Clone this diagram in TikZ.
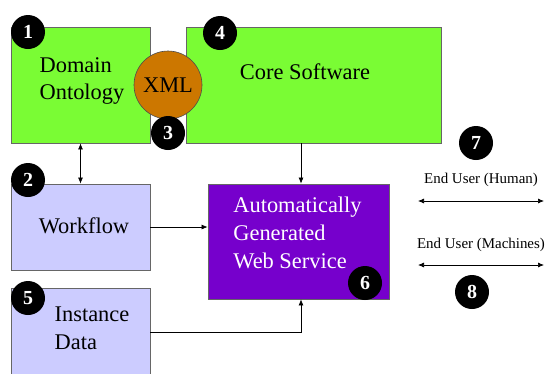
\documentclass[tikz,border=0pt]{standalone}
\usepackage{fontspec}
\setmainfont{Liberation Serif}
\definecolor{ontoGreen}{RGB}{122,252,52}
\definecolor{flowBlue}{RGB}{204,204,255}
\definecolor{wsPurple}{RGB}{118,0,204}
\definecolor{xmlOrange}{RGB}{204,119,0}
\usetikzlibrary{arrows.meta, positioning, calc}

\begin{document}
\begin{tikzpicture}[x=1bp, y=-1bp,
    box/.style={draw=black!60, line width=0.8bp, minimum width=139bp, inner sep=0pt},
    numdot/.style={circle, fill=black, text=white, font=\fontsize{20}{20}\selectfont\bfseries, minimum size=34bp, inner sep=0pt},
    bigtxt/.style={font=\fontsize{22.5}{28}\selectfont, align=left},
    smalltxt/.style={font=\fontsize{15}{18}\selectfont},
    conn/.style={line width=0.7bp, -{Latex[length=6bp,width=5bp]}},
    twoway/.style={line width=0.7bp, {Latex[length=6bp,width=5bp]}-{Latex[length=6bp,width=5bp]}}]
    \useasboundingbox (0,0) rectangle (551,373);

    % the building blocks
    \node[box, fill=ontoGreen, minimum height=116bp] (onto) at (80.5,85) {};
    \node[box, fill=ontoGreen, minimum width=255bp, minimum height=116bp] (core) at (313.5,85) {};
    \node[box, fill=flowBlue, minimum height=86bp] (flow) at (80.5,227) {};
    \node[box, fill=flowBlue, minimum height=88bp] (inst) at (80.5,332) {};
    \node[box, fill=wsPurple, minimum width=181bp, minimum height=115bp] (ws) at (298.5,241.5) {};
    \node[circle, draw=black!70, line width=0.6bp, fill=xmlOrange, minimum size=68bp, inner sep=0pt, bigtxt] (xml) at (168,85) {XML};

    \node[bigtxt] (ontotxt) at (82,81) {Domain\\Ontology};
    \node[bigtxt] (coretxt) at (305,72) {Core Software};
    \node[bigtxt] (flowtxt) at (84,226) {Workflow};
    \node[bigtxt] (insttxt) at (92,328) {Instance\\Data};
    \node[bigtxt, text=white] (wstxt) at (297.5,233) {Automatically\\Generated\\Web Service};

    % numbered markers
    \node[numdot] (n1) at (28,32) {1};
    \node[numdot] (n2) at (28,180) {2};
    \node[numdot] (n3) at (168,133) {3};
    \node[numdot] (n4) at (220,33) {4};
    \node[numdot] (n5) at (28,298) {5};
    \node[numdot] (n6) at (365,283) {6};
    \node[numdot] (n7) at (476,143) {7};
    \node[numdot] (n8) at (472,292) {8};

    % end users
    \node[smalltxt] (human) at (481,180) {End User (Human)};
    \node[smalltxt] (machines) at (481,245) {End User (Machines)};
    \coordinate (h1) at (418,201);
    \coordinate (h2) at (544,201);
    \coordinate (m1) at (418,265);
    \coordinate (m2) at (544,265);
    \draw[twoway] (h1) -- (h2);
    \draw[twoway] (m1) -- (m2);

    % connectors
    \draw[twoway] (onto.south) -- (flow.north);
    \draw[conn] ($(core.south -| ws.north)+(2.5,0)$) -- ($(ws.north)+(2.5,0)$);
    \draw[conn] (flow.east) -- (flow.east -| ws.west);
    \draw[conn] (inst.east) -| ($(ws.south)+(2.5,0)$);
\end{tikzpicture}
\end{document}
